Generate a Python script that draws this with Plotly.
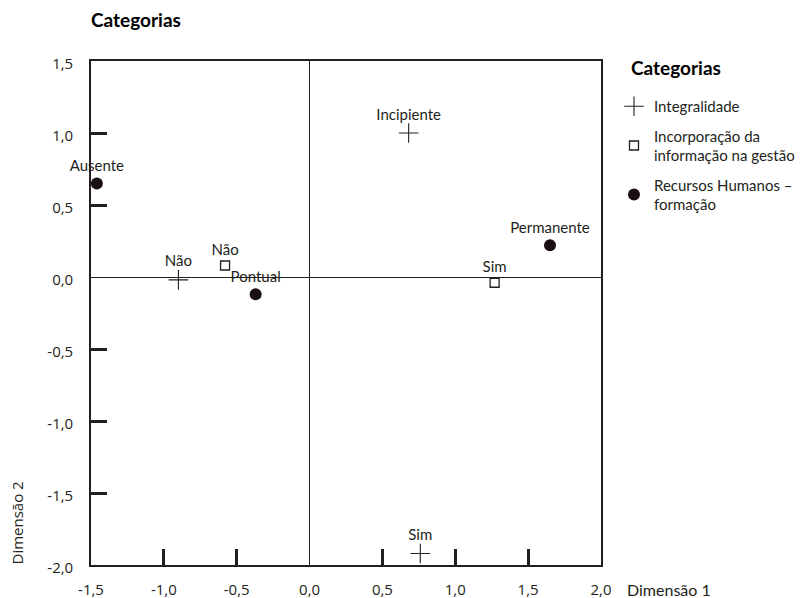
import plotly.graph_objects as go

# --- data ---
integ_labels = ["Não", "Incipiente", "Sim"]
integ_x = [-0.90, 0.68, 0.76]
integ_y = [-0.02, 1.00, -1.92]

incorp_labels = ["Não", "Sim"]
incorp_x = [-0.58, 1.27]
incorp_y = [0.08, -0.04]

rh_labels = ["Ausente", "Pontual", "Permanente"]
rh_x = [-1.46, -0.37, 1.65]
rh_y = [0.65, -0.12, 0.22]

series_names = ["Integralidade", "Incorporação da<br>informação na gestão", "Recursos Humanos –<br>formação"]

x_tickvals = [-1.5, -1.0, -0.5, 0.0, 0.5, 1.0, 1.5, 2.0]
x_ticktext = ["-1,5", "-1,0", "-0,5", "0,0", "0,5", "1,0", "1,5", "2,0"]
y_tickvals = [-2.0, -1.5, -1.0, -0.5, 0.0, 0.5, 1.0, 1.5]
y_ticktext = ["-2,0", "-1,5", "-1,0", "-0,5", "0,0", "0,5", "1,0", "1,5"]
x_marks = [-1.0, -0.5, 0.5, 1.0, 1.5]
y_marks = [-1.5, -1.0, -0.5, 0.5, 1.0]

INK = "#231f20"
LABEL_FONT = dict(family="Lato, sans-serif", size=15, color=INK)

fig = go.Figure()
fig.add_trace(go.Scatter(
    x=integ_x, y=integ_y, text=integ_labels, mode="markers+text", cliponaxis=False,
    textposition="top center", textfont=LABEL_FONT, name=series_names[0], legendgroup="a",
    marker=dict(symbol="cross-thin", size=14, line=dict(color=INK, width=1.1), color=INK),
))
fig.add_trace(go.Scatter(
    x=incorp_x, y=incorp_y, text=incorp_labels, mode="markers+text", cliponaxis=False,
    textposition="top center", textfont=LABEL_FONT, name=series_names[1], legendgroup="b",
    marker=dict(symbol="square-open", size=9, line=dict(color=INK, width=1.3), color=INK),
))
fig.add_trace(go.Scatter(
    x=rh_x, y=rh_y, text=rh_labels, mode="markers+text", cliponaxis=False,
    textposition="top center", textfont=LABEL_FONT, name=series_names[2], legendgroup="c",
    marker=dict(symbol="circle", size=12, color="#1a1011"),
))

tick_font = dict(family="Open Sans, sans-serif", size=15, color=INK)

fig.update_xaxes(
    range=[-1.5, 2.0], tickmode="array", tickvals=x_tickvals, ticktext=x_ticktext,
    ticks="", showgrid=False, zeroline=True, zerolinecolor=INK, zerolinewidth=1.2,
    showline=True, mirror=True, linecolor=INK, linewidth=1.6, automargin=False,
    tickfont=tick_font, ticklabelstandoff=10,
    minor=dict(tickmode="array", tickvals=x_marks, ticks="inside", ticklen=16,
               tickwidth=3, tickcolor=INK, showgrid=False),
)
fig.update_yaxes(
    range=[-2.0, 1.5], tickmode="array", tickvals=y_tickvals, ticktext=y_ticktext,
    ticks="", showgrid=False, zeroline=True, zerolinecolor=INK, zerolinewidth=1.2,
    showline=True, mirror=True, linecolor=INK, linewidth=1.6, automargin=False,
    tickfont=tick_font, ticklabelstandoff=13, ticklabelshift=3,
    minor=dict(tickmode="array", tickvals=y_marks, ticks="inside", ticklen=16,
               tickwidth=3, tickcolor=INK, showgrid=False),
)

TITLE_FONT = dict(family="Lato, sans-serif", size=19, color="black")

fig.update_layout(
    width=803, height=598,
    margin=dict(l=91, r=202, t=61, b=33, autoexpand=False),
    paper_bgcolor="white", plot_bgcolor="white",
    title=dict(text="<b>Categorias</b>", x=91/803, xanchor="left", y=1-20/598, yanchor="middle",
               font=TITLE_FONT),
    showlegend=True,
    legend=dict(
        x=(614-91)/510, xanchor="left", y=(565-90)/504, yanchor="top",
        font=dict(family="Lato, sans-serif", size=15, color=INK),
        itemwidth=30, tracegroupgap=7, bgcolor="rgba(0,0,0,0)",
    ),
    annotations=[
        dict(text="<b>Categorias</b>", xref="paper", yref="paper", x=(629-91)/510, y=(565-68)/504,
             xanchor="left", yanchor="middle", showarrow=False, font=TITLE_FONT),
        dict(text="Dimensão 1", xref="paper", yref="paper", x=1, y=0, xanchor="left", yanchor="middle",
             xshift=24, yshift=-24, showarrow=False,
             font=dict(family="Lato, sans-serif", size=16, color=INK)),
        dict(text="Dimensão 2", xref="paper", yref="paper", x=0, y=0, xanchor="center", yanchor="bottom",
             xshift=-75, yshift=-2, textangle=-90, showarrow=False,
             font=dict(family="Open Sans, sans-serif", size=15, color=INK)),
    ],
)

fig.write_html("out.html", config={"displayModeBar": False},
               post_script="document.body.style.margin='0';")
